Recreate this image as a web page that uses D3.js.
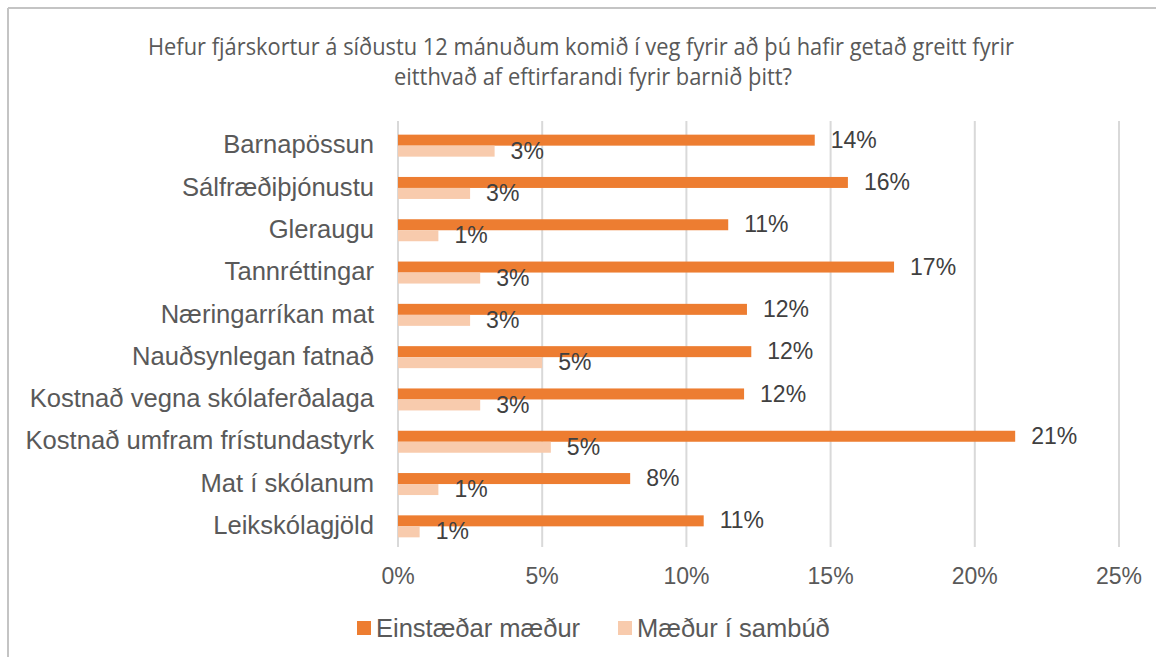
<!DOCTYPE html>
<html>
<head>
<meta charset="utf-8">
<script src="https://cdn.jsdelivr.net/npm/d3@7"></script>
<style>
  body { margin: 0; background: #fff; }
  svg { display: block; }
  .cat { font-family: "Liberation Sans", Arial, sans-serif; font-size: 25.6px; fill: #595959; }
  .tick-lbl { font-family: "Liberation Sans", Arial, sans-serif; font-size: 23px; fill: #595959; }
  .val { font-family: "Liberation Sans", Arial, sans-serif; font-size: 23px; fill: #404040; }
  .leg { font-family: "Liberation Sans", Arial, sans-serif; font-size: 25.5px; fill: #595959; }
  .title { font-family: "Open Sans", sans-serif; font-size: 23px; fill: #595959; }
</style>
</head>
<body>
<script>
// categories top to bottom
var categories = [
  "Barnapössun",
  "Sálfræðiþjónustu",
  "Gleraugu",
  "Tannréttingar",
  "Næringarríkan mat",
  "Nauðsynlegan fatnað",
  "Kostnað vegna skólaferðalaga",
  "Kostnað umfram frístundastyrk",
  "Mat í skólanum",
  "Leikskólagjöld"
];

// percent values
var einstaedar = [14.45, 15.6, 11.45, 17.2, 12.1, 12.25, 12.0, 21.4, 8.05, 10.6];
var sambud = [3.35, 2.5, 1.4, 2.85, 2.5, 5.0, 2.85, 5.3, 1.4, 0.75];

var seriesNames = ["Einstæðar mæður", "Mæður í sambúð"];
var seriesColors = ["#ED7D31", "#F8CBAD"];

var xTicks = [0, 5, 10, 15, 20, 25];

var titleLines = [
  "Hefur fjárskortur á síðustu 12 mánuðum komið í veg fyrir að þú hafir getað greitt fyrir",
  "eitthvað af eftirfarandi fyrir barnið þitt?"
];

var W = 1156, H = 657;

var svg = d3.select("body").append("svg")
    .attr("width", W)
    .attr("height", H);

// frame (top + left edge visible)
svg.append("line")
  .attr("x1", 8).attr("x2", W).attr("y1", 8).attr("y2", 8)
  .attr("stroke", "#c4c4c4").attr("stroke-width", 2);
svg.append("line")
  .attr("x1", 8).attr("x2", 8).attr("y1", 8).attr("y2", H)
  .attr("stroke", "#c4c4c4").attr("stroke-width", 2);

// title
var titleWidths = [866, 398];
var titleCx = [581, 593];
svg.selectAll(".title")
  .data(titleLines)
  .enter().append("text")
    .attr("class", "title")
    .attr("x", function(d, i) { return titleCx[i]; })
    .attr("y", function(d, i) { return 55 + i * 30; })
    .attr("text-anchor", "middle")
    .attr("textLength", function(d, i) { return titleWidths[i]; })
    .attr("lengthAdjust", "spacingAndGlyphs")
    .text(function(d) { return d; });

// scales
var xScale = d3.scaleLinear()
    .domain([0, 25])
    .range([398, 1119]);

var yScale = d3.scaleBand()
    .domain(categories)
    .range([124.5, 547.5])
    .paddingInner(0.48)
    .paddingOuter(0.24);

var ySub = d3.scaleBand()
    .domain([0, 1])
    .range([0, yScale.bandwidth()]);

// gridlines
svg.selectAll(".grid")
  .data(xTicks)
  .enter().append("line")
    .attr("x1", function(d) { return xScale(d); })
    .attr("x2", function(d) { return xScale(d); })
    .attr("y1", 121)
    .attr("y2", 547)
    .attr("stroke", "#d9d9d9")
    .attr("stroke-width", 2);

// x tick labels
svg.selectAll(".tick-lbl")
  .data(xTicks)
  .enter().append("text")
    .attr("class", "tick-lbl")
    .attr("x", function(d) { return xScale(d); })
    .attr("y", 584)
    .attr("text-anchor", "middle")
    .text(function(d) { return d + "%"; });

// category labels
svg.selectAll(".cat")
  .data(categories)
  .enter().append("text")
    .attr("class", "cat")
    .attr("x", 374)
    .attr("y", function(d) { return yScale(d) + yScale.bandwidth() / 2; })
    .attr("dy", "0.3em")
    .attr("text-anchor", "end")
    .text(function(d) { return d; });

// bars
var series = [einstaedar, sambud];
var fmt = d3.format(".0f");

series.forEach(function(vals, s) {
  var rows = categories.map(function(c, i) { return { cat: c, v: vals[i] }; });

  svg.selectAll(".bar" + s)
    .data(rows)
    .enter().append("rect")
      .attr("x", xScale(0))
      .attr("y", function(d) { return yScale(d.cat) + ySub(s); })
      .attr("width", function(d) { return xScale(d.v) - xScale(0); })
      .attr("height", ySub.bandwidth())
      .attr("fill", seriesColors[s]);

  svg.selectAll(".val" + s)
    .data(rows)
    .enter().append("text")
      .attr("class", "val")
      .attr("x", function(d) { return xScale(d.v) + 16; })
      .attr("y", function(d) { return yScale(d.cat) + ySub(s) + ySub.bandwidth() / 2; })
      .attr("dy", "0.33em")
      .text(function(d) { return fmt(d.v) + "%"; });
});

// legend
var legX = [357, 618];
var leg = svg.selectAll(".legitem")
  .data(seriesNames)
  .enter().append("g");

leg.append("rect")
  .attr("x", function(d, i) { return legX[i]; })
  .attr("y", 621)
  .attr("width", 14)
  .attr("height", 14)
  .attr("fill", function(d, i) { return seriesColors[i]; });

leg.append("text")
  .attr("class", "leg")
  .attr("x", function(d, i) { return legX[i] + 19; })
  .attr("y", 637)
  .text(function(d) { return d; });
</script>
</body>
</html>
